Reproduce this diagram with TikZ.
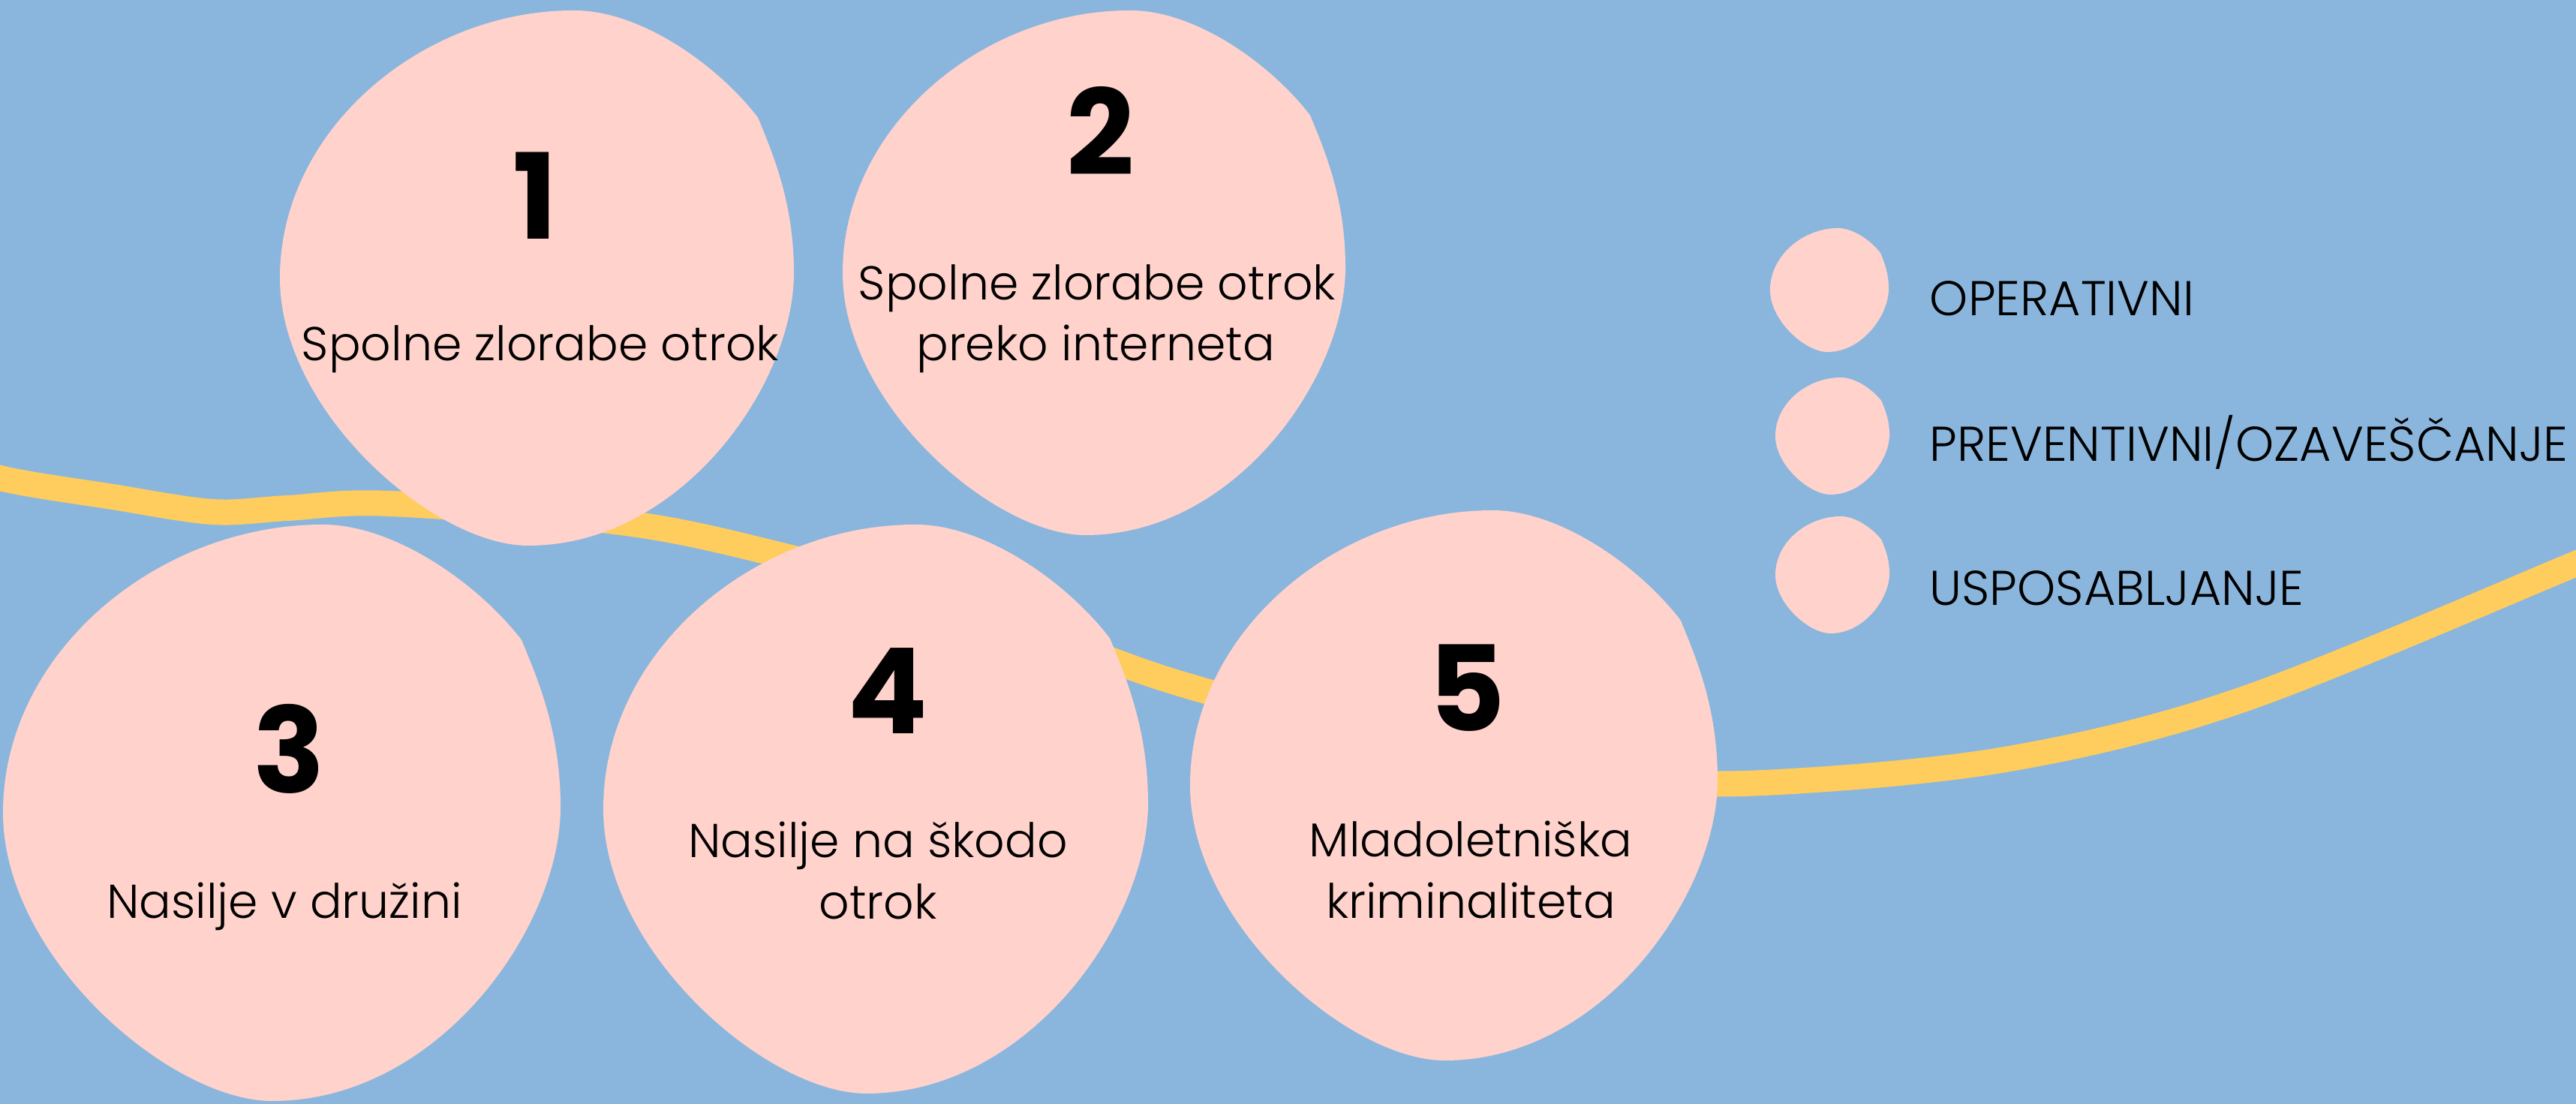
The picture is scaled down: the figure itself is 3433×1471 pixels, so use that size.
\documentclass[tikz,border=0pt]{standalone}
\usepackage{fontspec}
\setmainfont{Poppins}[UprightFont=* Light, BoldFont=* Bold]
\definecolor{bgblue}{HTML}{8AB6DD}
\definecolor{blobpink}{HTML}{FFD2CC}
\definecolor{bandyellow}{HTML}{FFCC5E}
\tikzset{
  blobfill/.style={fill=blobpink},
  band/.style={draw=bandyellow, line width=0.34cm},
  numlbl/.style={inner sep=0pt, anchor=base, font=\fontsize{45}{50}\selectfont\bfseries},
  bodylbl/.style={inner sep=0pt, anchor=base, font=\fontsize{18}{23}\selectfont},
  leglbl/.style={inner sep=0pt, anchor=base west, font=\fontsize{18.5}{23}\selectfont},
}
\newcommand\myblob[5]{% name, x0, y0, w, h
  \begin{scope}[shift={(#2,#3)}, xscale=#4, yscale=#5]
    \fill[blobfill] (0.574,0)
      .. controls (0.70,0) and (0.85,0.10) .. (0.93,0.20)
      .. controls (0.96,0.27) and (1.0,0.36) .. (1.0,0.49)
      .. controls (1.0,0.70) and (0.78,1.0) .. (0.483,1.0)
      .. controls (0.30,1.0) and (0.0,0.75) .. (0,0.50)
      .. controls (0.0,0.22) and (0.28,0.0) .. cycle;
    \coordinate (#1) at (0.5,0.5);
  \end{scope}}
\begin{document}
\begin{tikzpicture}[x=0.01cm, y=-0.01cm]
  \fill[bgblue] (0,0) rectangle (3433,1471);
  \useasboundingbox (0,0) rectangle (3433,1471);
  % yellow band
  \begin{scope}
    \clip (0,0) rectangle (3433,1471);
    \draw[band] plot[smooth, tension=0.55] coordinates {
      (-80,605) (0,637) (150,662) (283,682) (383,677) (520,671) (835,697)
      (1050,742) (1300,810) (1560,907) (1900,995) (2150,1036) (2350,1043)
      (2672,1012) (2986,933) (3433,751) (3520,712)};
  \end{scope}
  % blobs
  \myblob{b1}{373}{14}{685}{713}
  \myblob{b2}{1123}{14}{670}{699}
  \myblob{b3}{4}{699}{743}{768}
  \myblob{b4}{804}{699}{726}{758}
  \myblob{b5}{1586}{680}{703}{733}
  \myblob{la}{2359}{304}{158}{165}
  \myblob{lb}{2366}{503}{152}{156}
  \myblob{lc}{2366}{688}{152}{156}
  % numbers
  \node[numlbl] (n1) at (713,319) {1};
  \node[numlbl] (n2) at (1467,234) {2};
  \node[numlbl] (n3) at (385,1057) {3};
  \node[numlbl] (n4) at (1183,978) {4};
  \node[numlbl] (n5) at (1955,975) {5};
  % texts
  \node[bodylbl] (t1) at (720,481) {Spolne zlorabe otrok};
  \node[bodylbl] (t2a) at (1462,400) {Spolne zlorabe otrok};
  \node[bodylbl] (t2b) at (1460,481) {preko interneta};
  \node[bodylbl] (t3) at (379,1224) {Nasilje v družini};
  \node[bodylbl] (t4a) at (1170,1143) {Nasilje na škodo};
  \node[bodylbl] (t4b) at (1170,1225) {otrok};
  \node[bodylbl] (t5a) at (1960,1142) {Mladoletniška};
  \node[bodylbl] (t5b) at (1960,1224) {kriminaliteta};
  % legend
  \node[leglbl] (l1) at (2571,421) {OPERATIVNI};
  \node[leglbl] (l2) at (2571,615) {PREVENTIVNI/OZAVEŠČANJE};
  \node[leglbl] (l3) at (2571,807) {USPOSABLJANJE};
\end{tikzpicture}
\end{document}
